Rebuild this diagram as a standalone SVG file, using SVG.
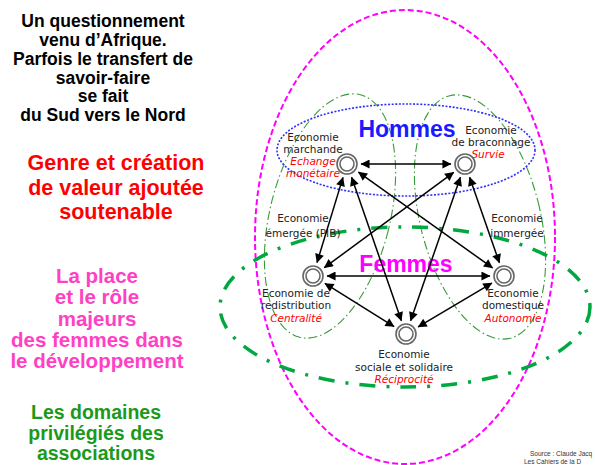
<svg xmlns="http://www.w3.org/2000/svg" width="595" height="465" viewBox="0 0 595 465">
<style>
.lt{font-family:"Liberation Sans",Arial,sans-serif;font-weight:bold;text-anchor:middle}
.nl{font-family:"DejaVu Sans",sans-serif;font-size:10.5px;fill:#222;text-anchor:middle}
.ni{font-family:"DejaVu Sans",sans-serif;font-size:10.5px;fill:#ff0000;font-style:italic;text-anchor:middle}
.edge{stroke:#000;stroke-width:1.5;fill:none;marker-start:url(#ah);marker-end:url(#ah)}
.node circle{fill:#fff;stroke:#666;stroke-width:1.6}
.thin{fill:none;stroke:#3a9a3a;stroke-width:1.1;stroke-dasharray:9 3 1.5 3}
</style>
<defs>
<marker id="ah" viewBox="0 0 10 10" refX="9.5" refY="5" markerWidth="10" markerHeight="9" markerUnits="userSpaceOnUse" orient="auto-start-reverse">
<path d="M0,0 L10,5 L0,10 z" fill="#000"/>
</marker>
</defs>
<rect width="595" height="465" fill="#fff"/>

<g id="left-text">
<g class="lt" font-size="17.5" fill="#000">
<text x="103" y="27">Un questionnement</text>
<text x="103" y="46">venu d’Afrique.</text>
<text x="103" y="65">Parfois le transfert de</text>
<text x="103" y="84">savoir-faire</text>
<text x="103" y="102">se fait</text>
<text x="103" y="121">du Sud vers le Nord</text>
</g>
<g class="lt" font-size="21.5" fill="#ff0000">
<text x="116" y="170">Genre et création</text>
<text x="116" y="195">de valeur ajoutée</text>
<text x="116" y="219">soutenable</text>
</g>
<g class="lt" font-size="20.5" fill="#ff3fc4">
<text x="97" y="283">La place</text>
<text x="97" y="304">et le rôle</text>
<text x="97" y="326">majeurs</text>
<text x="97" y="347">des femmes dans</text>
<text x="97" y="368">le développement</text>
</g>
<g class="lt" font-size="19.5" fill="#1a9a1a">
<text x="96" y="419">Les domaines</text>
<text x="96" y="440">privilégiés des</text>
<text x="96" y="460">associations</text>
</g>
</g>

<g id="zones">
<ellipse id="zone-global" cx="405" cy="237" rx="150" ry="227" fill="none" stroke="#ff00ff" stroke-width="2" stroke-dasharray="6 3"/>
<ellipse id="zone-left" class="thin" cx="330" cy="216" rx="60" ry="125" transform="rotate(14 330 216)"/>
<ellipse id="zone-right" class="thin" cx="480" cy="217" rx="60" ry="125" transform="rotate(-14 480 217)"/>
<ellipse id="zone-hommes" cx="406" cy="150" rx="129" ry="46" fill="none" stroke="#2e2eff" stroke-width="1.6" stroke-dasharray="2 1.6"/>
<ellipse id="zone-femmes" cx="405" cy="307" rx="185" ry="80" fill="none" stroke="#00a840" stroke-width="3.5" stroke-dasharray="16 11 3 11"/>
</g>

<g id="titles">
<text class="lt" x="407" y="137" font-size="23" fill="#1a1aff">Hommes</text>
<text class="lt" x="406" y="272" font-size="23" fill="#ff00ff">Femmes</text>
</g>

<g id="labels">
<text class="nl" x="313" y="141">Economie</text>
<text class="nl" x="313" y="153">marchande</text>
<text class="ni" x="313" y="165">Echange</text>
<text class="ni" x="313" y="177">monétaire</text>
<text class="nl" x="491" y="134">Economie</text>
<text class="nl" x="491" y="146">de braconnage</text>
<text class="ni" x="488" y="158">Survie</text>
<text class="nl" x="303" y="222">Economie</text>
<text class="nl" x="303" y="237">émergée (PIB)</text>
<text class="nl" x="517" y="222">Economie</text>
<text class="nl" x="517" y="237">immergée</text>
<text class="nl" x="296" y="297">Economie de</text>
<text class="nl" x="296" y="309">redistribution</text>
<text class="ni" x="296" y="322">Centralité</text>
<text class="nl" x="513" y="297">Economie</text>
<text class="nl" x="513" y="309">domestique</text>
<text class="ni" x="513" y="322">Autonomie</text>
<text class="nl" x="404" y="358">Economie</text>
<text class="nl" x="404" y="371">sociale et solidaire</text>
<text class="ni" x="404" y="383">Réciprocité</text>
</g>

<g id="connectors">
<line class="edge" x1="361" y1="164" x2="451" y2="164"/>
<line class="edge" x1="343" y1="177.4" x2="317" y2="262.6"/>
<line class="edge" x1="358.4" y1="172.1" x2="492.6" y2="267.9"/>
<line class="edge" x1="351.6" y1="177.2" x2="401.4" y2="320.8"/>
<line class="edge" x1="453.7" y1="172.3" x2="324.3" y2="267.7"/>
<line class="edge" x1="460.4" y1="177.2" x2="410.6" y2="320.8"/>
<line class="edge" x1="469.6" y1="177.2" x2="499.4" y2="262.8"/>
<line class="edge" x1="327" y1="276" x2="490" y2="276"/>
<line class="edge" x1="324.9" y1="283.4" x2="394.1" y2="326.6"/>
<line class="edge" x1="491.9" y1="283.1" x2="418.1" y2="326.9"/>
</g>

<g id="node-marchande" class="node"><circle cx="347" cy="164" r="10"/><circle cx="347" cy="164" r="7"/></g>
<g id="node-braconnage" class="node"><circle cx="465" cy="164" r="10"/><circle cx="465" cy="164" r="7"/></g>
<g id="node-redistribution" class="node"><circle cx="313" cy="276" r="10"/><circle cx="313" cy="276" r="7"/></g>
<g id="node-domestique" class="node"><circle cx="504" cy="276" r="10"/><circle cx="504" cy="276" r="7"/></g>
<g id="node-sociale" class="node"><circle cx="406" cy="334" r="10"/><circle cx="406" cy="334" r="7"/></g>

<g id="source" font-family="Liberation Sans, Arial, sans-serif" font-size="6.5" fill="#333">
<text x="530" y="456">Source : Claude Jacq</text>
<text x="524" y="464">Les Cahiers de la D</text>
</g>
</svg>
